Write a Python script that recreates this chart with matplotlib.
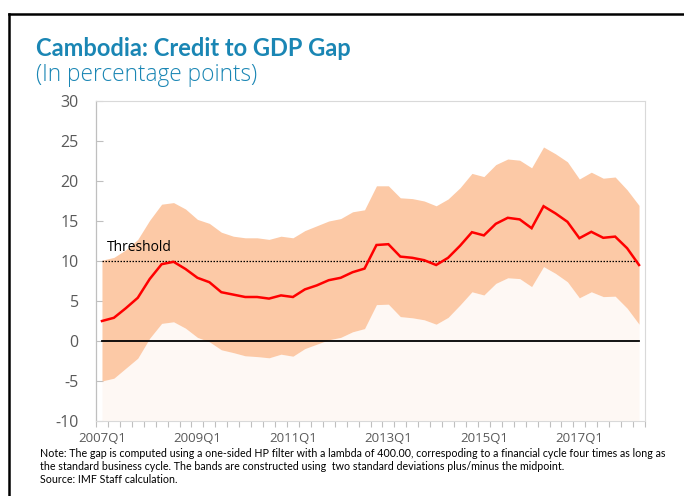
import matplotlib
matplotlib.use("Agg")
import matplotlib.pyplot as plt
from matplotlib.lines import Line2D
import numpy as np

# ---- data ----
quarters = [f"{y}Q{q}" for y in range(2007, 2019) for q in range(1, 5)][:46]
gap = [2.5, 2.9, 4.1, 5.4, 7.75, 9.6, 9.9, 9.0, 7.9, 7.35, 6.1, 5.8, 5.5, 5.5, 5.3, 5.7,
       5.5, 6.45, 6.95, 7.6, 7.9, 8.6, 9.05, 12.0, 12.1, 10.55, 10.4, 10.1, 9.5, 10.4,
       11.9, 13.6, 13.2, 14.65, 15.4, 15.2, 14.1, 16.85, 15.95, 14.9, 12.85, 13.65,
       12.9, 13.05, 11.6, 9.5]
upper = [10.1, 10.45, 11.4, 12.7, 15.1, 17.1, 17.3, 16.5, 15.2, 14.7, 13.6, 13.1,
         12.9, 12.9, 12.7, 13.1, 12.9, 13.8, 14.4, 15.0, 15.3, 16.15, 16.4, 19.4, 19.4,
         17.9, 17.8, 17.5, 16.9, 17.75, 19.15, 20.95, 20.55, 22.05, 22.75, 22.6, 21.65,
         24.25, 23.4, 22.4, 20.25, 21.1, 20.35, 20.5, 18.9, 16.95]
lower = [-5.0, -4.65, -3.4, -2.15, 0.35, 2.2, 2.4, 1.6, 0.45, -0.1, -1.1, -1.45,
         -1.85, -1.95, -2.1, -1.65, -1.9, -0.95, -0.4, 0.15, 0.45, 1.15, 1.55, 4.55,
         4.6, 3.05, 2.9, 2.65, 2.1, 2.95, 4.5, 6.15, 5.75, 7.2, 7.9, 7.8, 6.8, 9.3,
         8.45, 7.4, 5.4, 6.15, 5.55, 5.6, 4.1, 2.1]
threshold = 10
label_every = 8

W, H = 684, 496
fig = plt.figure(figsize=(W / 100, H / 100), dpi=100)
fig.patch.set_facecolor("white")

def fx(px):
    return px / W

def fy(py):
    return 1 - py / H

ax = fig.add_axes([fx(96), fy(421), fx(645) - fx(96), fy(101) - fy(421)])
x = np.arange(len(quarters))

ax.fill_between(x, -10, lower, color="#FEF8F4", lw=0, zorder=1)
ax.fill_between(x, lower, upper, color="#FCC9A6", lw=0, zorder=2)
ax.plot(x, [0] * len(x), color="black", lw=1.3, zorder=3)
ax.plot(x, [threshold] * len(x), color="black", lw=0.9, ls=(0, (1.2, 1.2)), zorder=3)
ax.plot(x, gap, color="#FF0000", lw=1.8, zorder=4, solid_joinstyle="miter")

ax.set_xlim(-0.5, len(x) - 0.5)
ax.set_ylim(-10, 30)
ax.set_yticks(np.arange(-10, 31, 5))
ax.set_yticklabels([str(v) for v in range(-10, 31, 5)], fontsize=11.5, color="#595959",
                   family="Open Sans")
ax.set_xticks(np.arange(-0.5, len(x), 1.0), minor=True)
ax.set_xticks(x[::label_every])
ax.set_xticklabels(quarters[::label_every], fontsize=9.5, color="#595959", family="Open Sans")
ax.tick_params(axis="x", which="major", length=0, pad=8)
ax.tick_params(axis="x", which="minor", length=4, color="#BFBFBF", direction="out", width=0.8)
ax.tick_params(axis="y", length=5, color="#BFBFBF", direction="in", width=0.8, pad=12.5)
for s in ["top", "right", "bottom"]:
    ax.spines[s].set_color("#D9D9D9")
    ax.spines[s].set_linewidth(0.8)
ax.spines["left"].set_color("#BFBFBF")
ax.spines["left"].set_linewidth(0.9)

ax.text(0.4, threshold + 0.8, "Threshold", fontsize=10, color="black", family="Open Sans",
        va="bottom", ha="left")

# titles
fig.text(fx(36), fy(56), "Cambodia: Credit to GDP Gap", fontsize=17, fontweight="bold",
         color="#1A86B4", family="Lato", va="baseline")
fig.text(fx(36), fy(81), "(In percentage points)", fontsize=16.3, color="#1A86B4",
         family="Open Sans", fontweight="light", va="baseline")

notes = [
    "Note: The gap is computed using a one-sided HP filter with a lambda of 400.00, correspoding to a financial cycle four times as long as",
    "the standard business cycle. The bands are constructed using  two standard deviations plus/minus the midpoint.",
    "Source: IMF Staff calculation.",
]
for i, t in enumerate(notes):
    fig.text(fx(40), fy(457 + 13 * i), t, fontsize=7.7, color="black", family="Lato",
             va="baseline")

# outer frame
fig.add_artist(Line2D([fx(9), fx(9)], [fy(14), 0], color="black", lw=1.8))
fig.add_artist(Line2D([fx(9), 1], [fy(14), fy(14)], color="black", lw=1.8))

fig.savefig("out.png", dpi=100)
